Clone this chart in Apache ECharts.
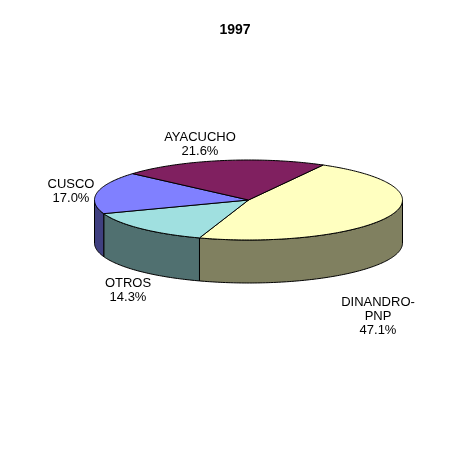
<!DOCTYPE html>
<html><head><meta charset="utf-8">
<style>html,body{margin:0;padding:0;background:#fff}#c{width:455px;height:453px}</style>
<script src="https://cdn.jsdelivr.net/npm/echarts@6/dist/echarts.min.js"></script>
</head><body><div id="c"></div>
<script>
var titleText = '1997';
var categories = ['DINANDRO-\nPNP', 'OTROS', 'CUSCO', 'AYACUCHO'];
var shares = [47.1, 14.3, 17.0, 21.6];
var topColors = ['#FFFFC0', '#A0E0E0', '#8080FF', '#802060'];
var sideColors = ['#808060', '#507070', '#404080', '#401030'];
var labelCenters = [[378, 316], [128, 290], [71, 191], [200, 144]];
var pie = {cx: 248.5, cy: 200, rx: 154, ry: 40, depth: 43, start: 61};

var total = shares.reduce(function (a, b) { return a + b; }, 0);
function pt(deg, dy) {
  var r = deg * Math.PI / 180;
  return [pie.cx + pie.rx * Math.cos(r), pie.cy - pie.ry * Math.sin(r) + (dy || 0)];
}
function arc(from, to, dy) {
  var pts = [], n = Math.max(2, Math.ceil(Math.abs(to - from)));
  for (var i = 0; i <= n; i++) pts.push(pt(from + (to - from) * i / n, dy));
  return pts;
}
function renderItem(params, api) {
  var i = params.dataIndex, before = 0;
  for (var k = 0; k < i; k++) before += shares[k];
  var a0 = pie.start - before / total * 360;
  var a1 = a0 - api.value(1) / total * 360;
  var children = [];
  // visible wall: the part of the rim whose angle lies in the lower half (-180..0)
  [0, -360].forEach(function (shift) {
    var hi = Math.min(a0 - shift, 0) , lo = Math.max(a1 - shift, -180);
    if (hi > lo) {
      var top = arc(hi, lo, 0), bottom = arc(lo, hi, pie.depth);
      children.push({type: 'polygon', z2: 1, shape: {points: top.concat(bottom)},
        style: {fill: sideColors[i], stroke: '#000', lineWidth: 1}});
    }
  });
  var wedge = [[pie.cx, pie.cy]].concat(arc(a0, a1, 0));
  children.push({type: 'polygon', z2: 2, shape: {points: wedge},
    style: {fill: topColors[i], stroke: '#000', lineWidth: 1, lineJoin: 'round'}});
  children.push({type: 'text', z2: 3, x: labelCenters[i][0], y: labelCenters[i][1],
    style: {text: categories[i] + '\n' + api.value(1).toFixed(1) + '%',
      font: '13px "Liberation Sans"', lineHeight: 14, fill: '#000', align: 'center', verticalAlign: 'middle'}});
  return {type: 'group', children: children};
}
var chart = echarts.init(document.getElementById('c'), null, {renderer: 'canvas'});
chart.setOption({
  animation: false,
  backgroundColor: '#fff',
  title: {text: titleText, left: 230, top: 18, textAlign: 'center',
    textStyle: {fontFamily: 'Liberation Sans', fontWeight: 'bold', fontSize: 14, color: '#000'}},
  series: [{
    type: 'custom', coordinateSystem: 'none', renderItem: renderItem,
    data: categories.map(function (c, i) { return [c, shares[i]]; })
  }]
});
</script></body></html>
